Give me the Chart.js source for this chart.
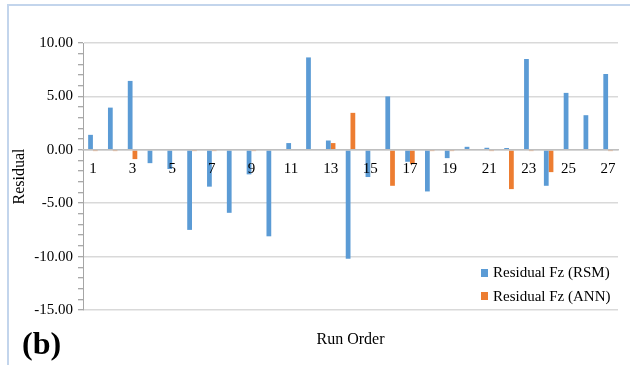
<!DOCTYPE html>
<html>
<head>
<meta charset="utf-8">
<script src="https://cdn.jsdelivr.net/npm/chart.js@4"></script>
<style>
  html, body { margin: 0; padding: 0; background: #fff; }
  #wrap { position: relative; width: 630px; height: 365px; overflow: hidden;
          font-family: "Liberation Serif", "Times New Roman", serif; color: #000; }
  #frame { position: absolute; left: 7px; top: 4px; width: 650px; height: 390px;
           border: 2px solid #c3d5ec; box-sizing: border-box; }
  #chart { position: absolute; left: 0; top: 0; }
  #panel { position: absolute; left: 22px; top: 327px; font-weight: bold;
           font-size: 32px; line-height: 32px; }
  #legend { position: absolute; left: 481px; top: 261px; font-size: 15px; }
  .item { display: flex; align-items: center; height: 23.5px; white-space: nowrap; }
  .sw { width: 7px; height: 8px; margin-right: 5px; }
</style>
</head>
<body>
<div id="wrap">
  <div id="frame"></div>
  <canvas id="chart" width="630" height="365"></canvas>
  <div id="legend"></div>
  <div id="panel">(b)</div>
</div>
<script>
// Run order (x categories)
const runOrder = ['1','2','3','4','5','6','7','8','9','10','11','12','13','14',
                  '15','16','17','18','19','20','21','22','23','24','25','26','27'];

// Residuals of the thrust force Fz for each run
const rsmResidual = [1.40, 3.95, 6.45, -1.25, -1.80, -7.50, -3.45, -5.90, -2.30, -8.10,
                     0.63, 8.65, 0.87, -10.20, -2.55, 5.00, -1.12, -3.90, -0.78, 0.28,
                     0.19, 0.17, 8.50, -3.37, 5.33, 3.24, 7.10];
const annResidual = [-0.12, -0.12, -0.87, 0, 0, -0.12, -0.12, 0, -0.12, 0,
                     0, 0, 0.63, 3.46, 0, -3.37, -1.34, -0.12, -0.12, 0,
                     -0.12, -3.68, -0.12, -2.09, 0, 0, -0.12];

const seriesNames = ['Residual Fz (RSM)', 'Residual Fz (ANN)'];
const seriesColors = ['#5b9bd5', '#ed7d31'];

// y range and labelled ticks
const yMin = -15, yMax = 10, yMajorStep = 5, yMinorStep = 1;

const serif = "'Liberation Serif', 'Times New Roman', serif";
Chart.defaults.font.family = serif;
Chart.defaults.color = '#000';

const chart = new Chart(document.getElementById('chart'), {
  type: 'bar',
  data: {
    labels: runOrder,
    datasets: [
      { label: seriesNames[0], data: rsmResidual, backgroundColor: seriesColors[0],
        categoryPercentage: 0.48, barPercentage: 1.0, xAxisID: 'x' },
      { label: seriesNames[1], data: annResidual, backgroundColor: seriesColors[1],
        categoryPercentage: 0.48, barPercentage: 1.0, xAxisID: 'x' }
    ]
  },
  options: {
    responsive: false,
    animation: false,
    devicePixelRatio: 1,
    layout: { padding: { left: 0, top: 43, right: 12, bottom: 0 } },
    plugins: { legend: { display: false }, tooltip: { enabled: false } },
    scales: {
      // category axis drawn along the zero line; line and labels sit over the bars
      x: {
        position: { y: 0 },
        grid: { display: false, drawTicks: false },
        border: { display: true, color: '#bfbfbf', width: 1.5, z: 1 },
        ticks: {
          z: 1,
          autoSkip: false, maxRotation: 0, minRotation: 0, padding: 10,
          font: { size: 15 },
          callback: (v, i) => (i % 2 === 0 ? runOrder[i] : '')
        }
      },
      // bottom axis carrying only the title
      x2: {
        type: 'category',
        position: 'bottom',
        grid: { display: false, drawTicks: false },
        border: { display: false },
        ticks: { display: false },
        title: { display: true, text: 'Run Order', font: { size: 16 },
                 padding: { top: 0, bottom: 16 } },
        afterFit(scale) { scale.height = 55; }
      },
      y: {
        position: 'left',
        min: yMin, max: yMax,
        ticks: {
          stepSize: yMinorStep, autoSkip: false, padding: 5,
          font: { size: 15 },
          callback: (v) => (v % yMajorStep === 0 ? Number(v).toFixed(2) : '')
        },
        grid: {
          color: (c) => (c.tick && c.tick.value % yMajorStep === 0 ? '#d9d9d9' : 'rgba(0,0,0,0)'),
          lineWidth: 1.5,
          tickColor: '#8c8c8c',
          tickLength: 5,
          tickWidth: 1
        },
        border: { display: true, color: '#a6a6a6', width: 1 },
        title: { display: true, text: 'Residual', font: { size: 16 },
                 padding: { top: 10, bottom: 0 } },
        afterFit(scale) { scale.width = 83; }
      }
    }
  }
});

// legend built from the chart's datasets
const legendEl = document.getElementById('legend');
chart.data.datasets.forEach((ds) => {
  const row = document.createElement('div');
  row.className = 'item';
  const sw = document.createElement('span');
  sw.className = 'sw';
  sw.style.background = ds.backgroundColor;
  const txt = document.createElement('span');
  txt.textContent = ds.label;
  row.appendChild(sw);
  row.appendChild(txt);
  legendEl.appendChild(row);
});
</script>
</body>
</html>
